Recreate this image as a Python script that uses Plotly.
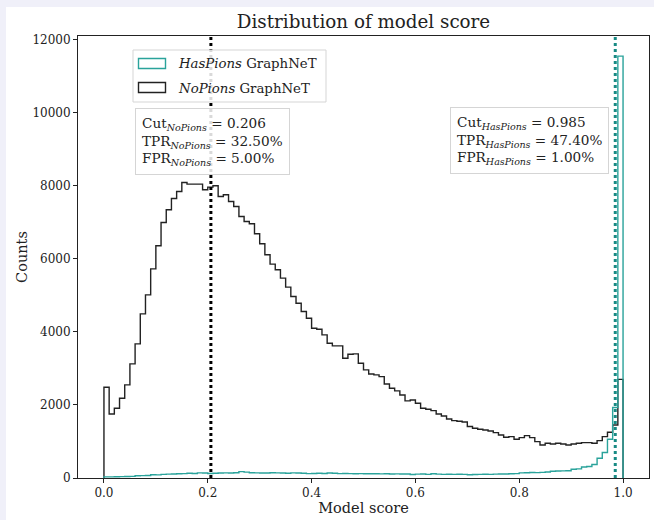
import numpy as np
import plotly.graph_objects as go

# ---------------- data ----------------
n_bins = 100
score_min, score_max = 0.0, 1.0

nopions_counts = [
    2484, 1753, 1909, 2183, 2548, 3123, 3671, 4493, 5014, 5726,
    6356, 6995, 7342, 7652, 7844, 8090, 8046, 8046, 8046, 7890,
    7964, 8000, 7707, 7753, 7571, 7434, 7160, 7023, 6960, 6685,
    6411, 6110, 5855, 5699, 5471, 5224, 4968, 4785, 4557, 4374,
    4100, 4073, 3918, 3689, 3616, 3616, 3279, 3388, 3397, 3141,
    2959, 2849, 2822, 2776, 2575, 2457, 2384, 2274, 2110, 2137,
    2046, 1909, 1881, 1844, 1753, 1699, 1616, 1571, 1553, 1534,
    1410, 1361, 1333, 1315, 1288, 1242, 1178, 1114, 1132, 1059,
    1105, 1160, 1105, 995, 904, 950, 932, 950, 932, 904,
    932, 950, 968, 968, 950, 1023, 1132, 1251, 1452, 2700,
]

haspions_counts = [
    30, 32, 35, 38, 40, 45, 60, 65, 70, 90,
    85, 100, 105, 110, 115, 120, 130, 125, 140, 135,
    125, 130, 135, 140, 135, 145, 175, 160, 145, 140,
    138, 135, 145, 140, 135, 130, 140, 135, 130, 120,
    125, 130, 125, 135, 130, 120, 125, 120, 118, 120,
    115, 118, 115, 112, 115, 110, 112, 108, 110, 95,
    105, 110, 100, 115, 105, 100, 102, 100, 104, 98,
    90, 95, 100, 102, 100, 105, 108, 110, 115, 120,
    140, 145, 150, 148, 155, 165, 185, 190, 195, 200,
    240, 250, 300, 315, 370, 540, 700, 1060, 1930, 11550,
]

cut_nopions = 0.206
cut_haspions = 0.985
tpr_nopions, fpr_nopions = 32.50, 5.00
tpr_haspions, fpr_haspions = 47.40, 1.00

x_ticks = [0.0, 0.2, 0.4, 0.6, 0.8, 1.0]
y_ticks = [0, 2000, 4000, 6000, 8000, 10000, 12000]

# ---------------- styling ----------------
FONT = "DejaVu Serif"
TEAL = "#2aa39b"
TEAL_DOT = "#188a84"
BLACK = "#222222"

W, H = 654, 520
L, R, T, B = 78, 5, 36, 42
PW, PH = W - L - R, H - T - B


def px(xp):
    return (xp - L) / PW


def py(yp):
    return (H - B - yp) / PH


edges = np.linspace(score_min, score_max, n_bins + 1)


def step_xy(counts):
    xs = [edges[0]] + list(edges) + [edges[-1]]
    ys = [0] + list(counts) + [counts[-1], 0]
    return xs, ys


fig = go.Figure()
xb, yb = step_xy(nopions_counts)
fig.add_trace(go.Scatter(x=xb, y=yb, mode="lines", line=dict(shape="hv", color=BLACK, width=1.4),
                         name="NoPions GraphNeT", showlegend=False, hoverinfo="skip"))
xt, yt = step_xy(haspions_counts)
fig.add_trace(go.Scatter(x=xt, y=yt, mode="lines", line=dict(shape="hv", color=TEAL, width=1.4),
                         name="HasPions GraphNeT", showlegend=False, hoverinfo="skip"))

shapes = []
# white figure area over lavender page
shapes.append(dict(type="rect", xref="paper", yref="paper", x0=px(6), x1=px(654), y0=py(520), y1=py(7),
                   fillcolor="white", line=dict(width=0), layer="below"))
# cut lines
shapes.append(dict(type="line", xref="x", yref="paper", x0=cut_nopions, x1=cut_nopions, y0=0, y1=1,
                   line=dict(color="black", width=3, dash="dot")))
shapes.append(dict(type="line", xref="x", yref="paper", x0=cut_haspions, x1=cut_haspions, y0=0, y1=1,
                   line=dict(color=TEAL_DOT, width=3, dash="dot")))
# legend box
shapes.append(dict(type="rect", xref="paper", yref="paper", x0=px(133), x1=px(326), y0=py(102), y1=py(50),
                   fillcolor="rgba(255,255,255,0.85)", line=dict(color="#d5d5d5", width=1)))
shapes.append(dict(type="rect", xref="paper", yref="paper", x0=px(138.5), x1=px(165.5), y0=py(68.5), y1=py(58.5),
                   fillcolor="rgba(0,0,0,0)", line=dict(color=TEAL, width=1.4)))
shapes.append(dict(type="rect", xref="paper", yref="paper", x0=px(138.5), x1=px(165.5), y0=py(92.5), y1=py(82.5),
                   fillcolor="rgba(0,0,0,0)", line=dict(color=BLACK, width=1.4)))

annotations = [
    dict(xref="paper", yref="paper", x=px(176), y=py(63.5), xanchor="left", yanchor="middle",
         text="<i>HasPions</i> GraphNeT", showarrow=False, font=dict(family=FONT, size=13.3, color="#222")),
    dict(xref="paper", yref="paper", x=px(176), y=py(88), xanchor="left", yanchor="middle",
         text="<i>NoPions</i> GraphNeT", showarrow=False, font=dict(family=FONT, size=13.3, color="#222")),
    dict(xref="paper", yref="paper", x=px(135), y=py(108), xanchor="left", yanchor="top", align="left",
         text=(f"Cut<sub><i>NoPions</i></sub> = {cut_nopions:.3f}<br>"
               f"TPR<sub><i>NoPions</i></sub> = {tpr_nopions:.2f}%<br>"
               f"FPR<sub><i>NoPions</i></sub> = {fpr_nopions:.2f}%"),
         showarrow=False, font=dict(family=FONT, size=13.6, color="#222"),
         bgcolor="rgba(255,255,255,0.85)", bordercolor="#d5d5d5", borderwidth=1, borderpad=6),
    dict(xref="paper", yref="paper", x=px(450), y=py(107), xanchor="left", yanchor="top", align="left",
         text=(f"Cut<sub><i>HasPions</i></sub> = {cut_haspions:.3f}<br>"
               f"TPR<sub><i>HasPions</i></sub> = {tpr_haspions:.2f}%<br>"
               f"FPR<sub><i>HasPions</i></sub> = {fpr_haspions:.2f}%"),
         showarrow=False, font=dict(family=FONT, size=13.6, color="#222"),
         bgcolor="rgba(255,255,255,0.85)", bordercolor="#d5d5d5", borderwidth=1, borderpad=6),
]

fig.update_layout(
    width=W, height=H,
    margin=dict(l=L, r=R, t=T, b=B, pad=0),
    paper_bgcolor="#f0f0f9",
    plot_bgcolor="white",
    font=dict(family=FONT, color="#222"),
    title=dict(text="Distribution of model score", x=0.5, xref="paper", xanchor="center",
               y=1 - 22 / H, yanchor="middle", font=dict(family=FONT, size=18.3, color="#222")),
    shapes=shapes,
    annotations=annotations,
    showlegend=False,
)
fig.update_xaxes(range=[-0.05, 1.05], tickvals=x_ticks, ticktext=[f"{v:.1f}" for v in x_ticks],
                 ticks="outside", ticklen=4, tickwidth=1, tickcolor="#222",
                 showline=True, linecolor="#222", linewidth=1, mirror=True,
                 showgrid=False, zeroline=False,
                 tickfont=dict(family=FONT, size=12, color="#222"),
                 title=dict(text="Model score", font=dict(family=FONT, size=14.5, color="#222"), standoff=3))
fig.update_yaxes(range=[0, 12100], tickvals=y_ticks, ticktext=[str(v) for v in y_ticks],
                 ticks="outside", ticklen=4, tickwidth=1, tickcolor="#222",
                 showline=True, linecolor="#222", linewidth=1, mirror=True,
                 showgrid=False, zeroline=False,
                 tickfont=dict(family=FONT, size=12, color="#222"),
                 title=dict(text="Counts", font=dict(family=FONT, size=14.5, color="#222"), standoff=1))

fig.write_html("out.html")
